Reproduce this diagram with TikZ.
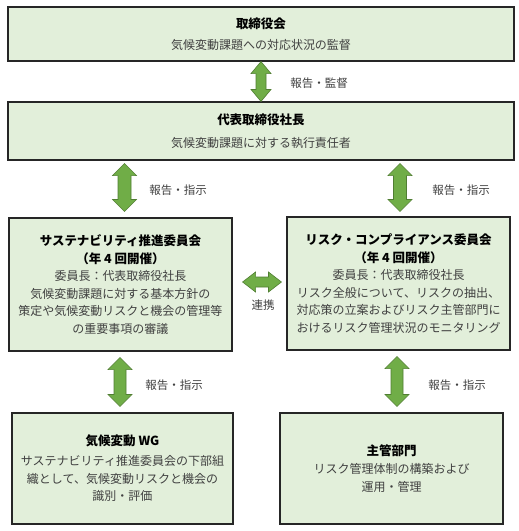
\documentclass[tikz,border=0pt]{standalone}
\usepackage{fontspec}
\setmainfont{Noto Sans CJK JP}
\usetikzlibrary{calc}
\definecolor{boxgreen}{HTML}{E2EFDA}
\definecolor{arrgreen}{HTML}{70AD47}
\definecolor{arrdark}{HTML}{507E32}
\definecolor{txtgray}{HTML}{404040}
\tikzset{
  box/.style={draw=black!85, fill=boxgreen, line width=1.1pt, align=center, inner sep=0pt,
    text=txtgray, font=\fontsize{12}{17.6}\selectfont},
  lbl/.style={text=txtgray, font=\fontsize{11.5}{14}\selectfont, inner sep=0pt},
  bigarrow/.style={fill=arrgreen, draw=arrdark, line width=0.6pt, line join=miter}
}
\newcommand{\ttl}[1]{{\color{black}\bfseries\fontsize{12.5}{17.6}\selectfont #1}}
% vertical double arrow: #1 top point, #2 bottom point, #3 head half width, #4 shaft half width
\newcommand{\vdarrow}[4]{%
  \filldraw[bigarrow] let \p1=(#1), \p2=(#2) in
   (\x1,\y1) -- (\x1+#3,\y1-12pt) -- (\x1+#4,\y1-12pt) -- (\x1+#4,\y2+12pt) -- (\x1+#3,\y2+12pt)
   -- (\x1,\y2) -- (\x1-#3,\y2+12pt) -- (\x1-#4,\y2+12pt) -- (\x1-#4,\y1-12pt) -- (\x1-#3,\y1-12pt) -- cycle;}
% horizontal double arrow: #1 left point, #2 right point
\newcommand{\hdarrow}[4]{%
  \filldraw[bigarrow] let \p1=(#1), \p2=(#2) in
   (\x1,\y1) -- (\x1+13pt,\y1+#3) -- (\x1+13pt,\y1+#4) -- (\x2-13pt,\y1+#4) -- (\x2-13pt,\y1+#3)
   -- (\x2,\y1) -- (\x2-13pt,\y1-#3) -- (\x2-13pt,\y1-#4) -- (\x1+13pt,\y1-#4) -- (\x1+13pt,\y1-#3) -- cycle;}
\begin{document}
\begin{tikzpicture}[x=1pt,y=-1pt]
\useasboundingbox (0,0) rectangle (519,531);

\node[box, minimum width=506pt, minimum height=54pt] (board) at (261,34)
  {\ttl{取締役会}\\[3pt]気候変動課題への対応状況の監督};
\node[box, minimum width=506pt, minimum height=58pt] (ceo) at (261,131)
  {\ttl{代表取締役社長}\\[5pt]気候変動課題に対する執行責任者};

\node[box, minimum width=223pt, minimum height=133pt] (sus) at (120.5,284.5)
  {\ttl{サステナビリティ推進委員会}\\\ttl{（年 4 回開催）}\\委員長：代表取締役社長\\気候変動課題に対する基本方針の\\策定や気候変動リスクと機会の管理等\\の重要事項の審議};
\node[box, minimum width=223pt, minimum height=133pt] (risk) at (398.5,283.5)
  {\ttl{リスク・コンプライアンス委員会}\\\ttl{（年 4 回開催）}\\委員長：代表取締役社長\\リスク全般について、リスクの抽出、\\対応策の立案およびリスク主管部門に\\おけるリスク管理状況のモニタリング};

\node[box, minimum width=221pt, minimum height=111pt] (wg) at (122.5,468.5)
  {\ttl{気候変動 WG}\\[2pt]サステナビリティ推進委員会の下部組\\織として、気候変動リスクと機会の\\識別・評価};
\node[box, minimum width=223pt, minimum height=111pt] (dept) at (391.5,468.5)
  {\ttl{主管部門}\\リスク管理体制の構築および\\運用・管理};

% connectors
\vdarrow{board.south}{ceo.north}{10pt}{5pt}
\vdarrow{$(ceo.south -| sus.north)+(4,3)$}{$(sus.north)+(4,-6)$}{12pt}{6.5pt}
\vdarrow{$(ceo.south -| risk.north)+(1.5,3)$}{$(risk.north)+(1.5,-5)$}{12pt}{6.5pt}
\hdarrow{$(sus.east)+(10,-2.5)$}{$(risk.west)+(-5,-1.5)$}{10pt}{5pt}
\vdarrow{$(sus.south)+(-0.5,6)$}{$(wg.north -| sus.south)+(-0.5,-6)$}{12pt}{6pt}
\vdarrow{$(risk.south)+(-1.5,6)$}{$(dept.north -| risk.south)+(-1.5,-6)$}{12pt}{6pt}

% labels
\node[lbl] (l1) at (319,83) {報告・監督};
\node[lbl] (l2) at (178,190) {報告・指示};
\node[lbl] (l3) at (461,190) {報告・指示};
\node[lbl] (l4) at (263,305) {連携};
\node[lbl] (l5) at (174,385) {報告・指示};
\node[lbl] (l6) at (457,385) {報告・指示};
\end{tikzpicture}
\end{document}
